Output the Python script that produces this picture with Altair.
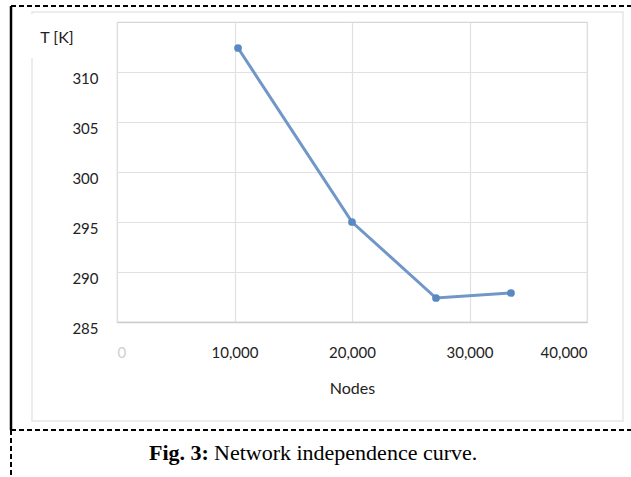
import altair as alt
import pandas as pd

# ---- data ----
nodes = [10300, 20000, 27150, 33530]
temps = [312.4, 295.0, 287.4, 287.9]
x_ticks = [0, 10000, 20000, 30000, 40000]
y_ticks = [285, 290, 295, 300, 305, 310]
x_title = "Nodes"
y_title = "T [K]"
caption_bold = "Fig. 3:"
caption_rest = "Network independence curve."

df = pd.DataFrame({"Nodes": nodes, "T": temps})

# plot-area origin in page pixels
OX, OY = 117, 22
W, H = 470, 300
FONT = "Lato"


def px(x):
    return x - OX


def py(y):
    return y - OY


one = pd.DataFrame({"a": [0]})

x_enc = alt.X(
    "Nodes:Q",
    scale=alt.Scale(domain=[0, 40000], nice=False),
    axis=alt.Axis(
        values=x_ticks,
        format=",.0f",
        title=x_title,
        labelFont=FONT,
        labelFontSize=15,
        labelColor={"condition": {"test": "datum.value == 0", "value": "#cfcfcf"}, "value": "#222222"},
        labelPadding=23,
        ticks=False,
        domainColor="#cccccc",
        domainWidth=1.5,
        gridColor="#e0e0e0",
        gridWidth=1.2,
        titleFont=FONT,
        titleFontSize=16,
        titleFontWeight="normal",
        titleColor="#222222",
        titlePadding=20,
    ),
)
y_enc = alt.Y(
    "T:Q",
    scale=alt.Scale(domain=[285, 315], nice=False, zero=False),
    axis=alt.Axis(
        values=y_ticks,
        title=None,
        labelFont=FONT,
        labelFontSize=15,
        labelColor="#222222",
        labelPadding=19,
        labelOffset=6,
        ticks=False,
        domain=False,
        gridColor="#e0e0e0",
        gridWidth=1.2,
    ),
)

line = alt.Chart(df).mark_line(color="#7097c8", strokeWidth=3).encode(x=x_enc, y=y_enc)
pts = alt.Chart(df).mark_circle(color="#5a88c0", size=60, opacity=1).encode(x="Nodes:Q", y="T:Q")

# chart-area frame (faint)
frame = alt.Chart(one).mark_rect(fill=None, stroke="#e6e6e6", strokeWidth=1.5).encode(
    x=alt.value(px(32)), x2=alt.value(px(623)), y=alt.value(py(12)), y2=alt.value(py(421))
)
# white box behind the y title
tbox = alt.Chart(one).mark_rect(fill="white").encode(
    x=alt.value(px(28)), x2=alt.value(px(90)), y=alt.value(py(14)), y2=alt.value(py(58))
)
ytitle = alt.Chart(one).mark_text(
    text=y_title, font=FONT, fontSize=16, color="#222222", align="center", baseline="middle"
).encode(x=alt.value(px(57)), y=alt.value(py(38)))

# page borders
top_dash = alt.Chart(one).mark_rule(color="black", strokeWidth=2, strokeDash=[5, 3]).encode(
    x=alt.value(px(11)), x2=alt.value(px(631)), y=alt.value(py(6)), y2=alt.value(py(6))
)
left_solid = alt.Chart(one).mark_rule(color="black", strokeWidth=2.5).encode(
    x=alt.value(px(11)), x2=alt.value(px(11)), y=alt.value(py(6)), y2=alt.value(py(430))
)
mid_dash = alt.Chart(one).mark_rule(color="black", strokeWidth=2, strokeDash=[5, 3]).encode(
    x=alt.value(px(11)), x2=alt.value(px(631)), y=alt.value(py(430)), y2=alt.value(py(430))
)
left_dash = alt.Chart(one).mark_rule(color="black", strokeWidth=2, strokeDash=[5, 3]).encode(
    x=alt.value(px(11)), x2=alt.value(px(11)), y=alt.value(py(430)), y2=alt.value(py(477))
)

cap1 = alt.Chart(one).mark_text(
    text=caption_bold, font="Liberation Serif", fontSize=22, fontWeight="bold",
    color="black", align="left", baseline="middle"
).encode(x=alt.value(px(149)), y=alt.value(py(453)))
cap2 = alt.Chart(one).mark_text(
    text=caption_rest, font="Liberation Serif", fontSize=22,
    color="black", align="left", baseline="middle"
).encode(x=alt.value(px(214)), y=alt.value(py(453)))

chart = alt.layer(
    frame, line, pts, tbox, ytitle, top_dash, left_solid, mid_dash, left_dash, cap1, cap2
).properties(
    width=W, height=H,
    autosize=alt.AutoSizeParams(type="none"),
    padding={"left": OX, "top": OY, "right": 631 - OX - W, "bottom": 477 - OY - H},
    background="white",
).configure_view(stroke="#d6d6d6", strokeWidth=1.2)

chart.save("out.html", embed_options={"renderer": "svg", "actions": False})
